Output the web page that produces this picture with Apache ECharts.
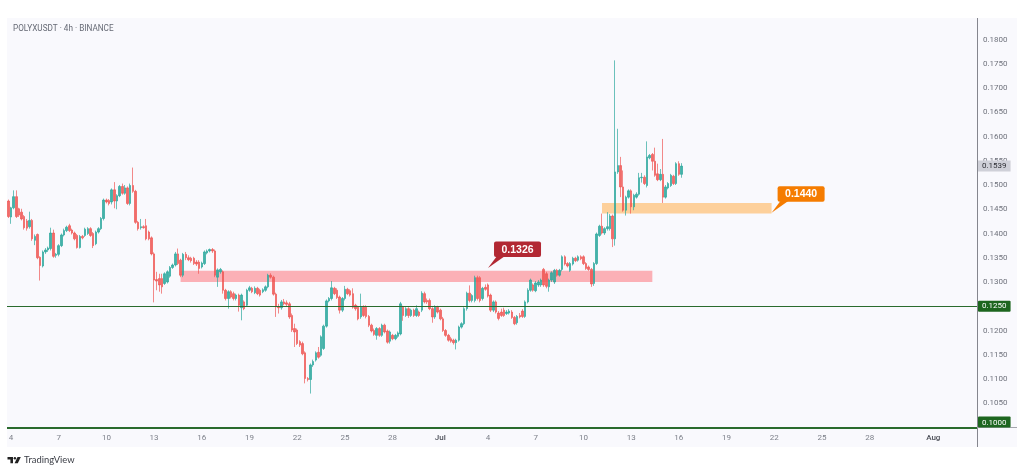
<!DOCTYPE html>
<html>
<head>
<meta charset="utf-8">
<title>POLYXUSDT</title>
<script src="https://cdn.jsdelivr.net/npm/echarts@6/dist/echarts.min.js"></script>
<style>
html,body{margin:0;padding:0;background:#fff;}
#main{width:1024px;height:472px;}
</style>
</head>
<body>
<div id="main"></div>
<script>
// 4h candles: open, close, low, high
var ohlc = [
[.1467,.1435,.1432,.1470],[.1434,.1453,.1420,.1455],[.1453,.1476,.1450,.1489],[.1476,.1435,.1432,.1489],[.1451,.1438,.1434,.1453],
[.1444,.1430,.1427,.1451],[.1435,.1412,.1408,.1438],[.1426,.1411,.1406,.1430],[.1414,.1427,.1410,.1445],[.1427,.1389,.1385,.1430],
[.1386,.1394,.1376,.1398],[.1398,.1350,.1347,.1400],[.1351,.1334,.1303,.1353],[.1333,.1362,.1330,.1365],[.1362,.1366,.1358,.1370],
[.1366,.1370,.1362,.1373],[.1369,.1401,.1365,.1412],[.1401,.1353,.1350,.1408],[.1355,.1357,.1350,.1360],[.1357,.1375,.1353,.1378],
[.1375,.1397,.1372,.1400],[.1397,.1406,.1394,.1410],[.1406,.1413,.1403,.1416],[.1416,.1406,.1403,.1420],[.1407,.1401,.1398,.1410],
[.1401,.1389,.1386,.1404],[.1396,.1371,.1369,.1399],[.1371,.1394,.1369,.1397],[.1394,.1391,.1388,.1397],[.1396,.1409,.1393,.1412],
[.1400,.1410,.1397,.1413],[.1410,.1396,.1393,.1413],[.1400,.1375,.1370,.1403],[.1379,.1403,.1376,.1406],[.1403,.1410,.1400,.1413],
[.1410,.1431,.1407,.1434],[.1431,.1469,.1427,.1472],[.1469,.1465,.1462,.1472],[.1468,.1462,.1458,.1471],[.1465,.1490,.1460,.1493],
[.1490,.1467,.1452,.1506],[.1467,.1478,.1450,.1481],[.1478,.1497,.1475,.1500],[.1497,.1483,.1480,.1503],[.1483,.1494,.1480,.1500],
[.1494,.1462,.1459,.1497],[.1462,.1499,.1458,.1503],[.1499,.1487,.1484,.1536],[.1487,.1423,.1420,.1490],[.1423,.1410,.1406,.1426],
[.1412,.1414,.1408,.1430],[.1414,.1412,.1410,.1417],[.1416,.1389,.1386,.1430],[.1403,.1389,.1386,.1406],[.1391,.1358,.1355,.1394],
[.1358,.1304,.1258,.1361],[.1305,.1302,.1283,.1321],[.1307,.1294,.1280,.1317],[.1307,.1290,.1276,.1317],[.1297,.1317,.1294,.1320],
[.1300,.1321,.1297,.1324],[.1312,.1330,.1309,.1333],[.1330,.1335,.1327,.1338],[.1335,.1358,.1332,.1362],[.1358,.1338,.1335,.1369],
[.1345,.1314,.1310,.1348],[.1314,.1357,.1310,.1360],[.1357,.1350,.1345,.1362],[.1350,.1346,.1343,.1355],[.1349,.1344,.1340,.1352],
[.1349,.1338,.1335,.1352],[.1341,.1337,.1333,.1345],[.1341,.1328,.1317,.1345],[.1331,.1339,.1328,.1342],[.1338,.1362,.1335,.1365],
[.1360,.1364,.1357,.1367],[.1364,.1367,.1361,.1369],[.1367,.1364,.1360,.1370],[.1364,.1314,.1310,.1367],[.1310,.1325,.1290,.1328],
[.1321,.1326,.1317,.1329],[.1321,.1283,.1276,.1324],[.1283,.1266,.1262,.1286],[.1266,.1280,.1245,.1283],[.1280,.1269,.1266,.1283],
[.1276,.1266,.1262,.1280],[.1266,.1273,.1262,.1276],[.1273,.1252,.1239,.1276],[.1247,.1273,.1221,.1276],[.1259,.1245,.1242,.1262],
[.1252,.1283,.1249,.1286],[.1283,.1288,.1280,.1292],[.1287,.1280,.1277,.1290],[.1278,.1287,.1275,.1291],[.1287,.1276,.1273,.1290],
[.1283,.1273,.1270,.1286],[.1280,.1284,.1277,.1287],[.1283,.1290,.1280,.1293],[.1290,.1314,.1287,.1317],[.1314,.1310,.1307,.1318],
[.1310,.1275,.1272,.1313],[.1275,.1249,.1228,.1278],[.1249,.1247,.1235,.1255],[.1247,.1259,.1243,.1263],[.1259,.1255,.1252,.1265],
[.1257,.1254,.1250,.1262],[.1255,.1228,.1224,.1259],[.1231,.1201,.1197,.1235],[.1204,.1197,.1166,.1214],[.1201,.1173,.1170,.1204],
[.1177,.1170,.1166,.1180],[.1173,.1152,.1149,.1177],[.1154,.1101,.1091,.1157],[.1101,.1099,.1095,.1104],[.1099,.1129,.1070,.1132],
[.1129,.1136,.1125,.1140],[.1139,.1154,.1136,.1157],[.1155,.1145,.1142,.1166],[.1149,.1187,.1146,.1190],[.1163,.1209,.1160,.1212],
[.1209,.1261,.1206,.1264],[.1261,.1266,.1258,.1269],[.1266,.1288,.1262,.1302],[.1287,.1276,.1273,.1290],[.1283,.1268,.1265,.1287],
[.1269,.1242,.1235,.1272],[.1242,.1266,.1238,.1269],[.1266,.1285,.1262,.1292],[.1285,.1276,.1273,.1288],[.1282,.1273,.1270,.1285],
[.1276,.1248,.1245,.1287],[.1252,.1245,.1241,.1255],[.1248,.1224,.1221,.1251],[.1228,.1248,.1224,.1276],[.1248,.1231,.1228,.1252],
[.1248,.1229,.1225,.1252],[.1229,.1211,.1207,.1232],[.1211,.1199,.1196,.1214],[.1200,.1192,.1189,.1204],[.1190,.1204,.1181,.1207],
[.1204,.1190,.1187,.1207],[.1190,.1211,.1187,.1214],[.1211,.1197,.1194,.1214],[.1199,.1176,.1173,.1202],[.1178,.1197,.1173,.1200],
[.1190,.1183,.1180,.1193],[.1183,.1190,.1180,.1193],[.1188,.1195,.1185,.1198],[.1193,.1255,.1190,.1259],[.1248,.1231,.1220,.1251],
[.1231,.1245,.1228,.1248],[.1245,.1231,.1226,.1248],[.1231,.1242,.1228,.1245],[.1242,.1231,.1228,.1245],[.1231,.1245,.1228,.1252],
[.1238,.1231,.1228,.1241],[.1242,.1277,.1238,.1281],[.1276,.1259,.1256,.1280],[.1262,.1259,.1255,.1266],[.1262,.1245,.1242,.1266],
[.1245,.1228,.1216,.1248],[.1228,.1248,.1224,.1252],[.1248,.1238,.1235,.1251],[.1242,.1224,.1221,.1245],[.1224,.1200,.1197,.1228],
[.1200,.1190,.1187,.1203],[.1190,.1180,.1177,.1193],[.1183,.1178,.1175,.1187],[.1180,.1175,.1171,.1183],[.1175,.1180,.1161,.1183],
[.1180,.1207,.1177,.1210],[.1207,.1214,.1204,.1217],[.1214,.1245,.1211,.1248],[.1245,.1277,.1241,.1280],[.1277,.1262,.1258,.1293],
[.1262,.1272,.1258,.1275],[.1262,.1309,.1258,.1313],[.1309,.1266,.1262,.1313],[.1309,.1262,.1258,.1312],[.1266,.1287,.1262,.1290],
[.1289,.1285,.1282,.1295],[.1294,.1271,.1268,.1297],[.1273,.1242,.1238,.1276],[.1242,.1259,.1238,.1262],[.1259,.1238,.1235,.1262],
[.1236,.1225,.1221,.1240],[.1238,.1231,.1228,.1245],[.1242,.1231,.1228,.1247],[.1235,.1238,.1232,.1242],[.1236,.1240,.1233,.1244],
[.1238,.1227,.1224,.1242],[.1227,.1214,.1211,.1230],[.1216,.1229,.1212,.1232],[.1231,.1228,.1225,.1236],[.1240,.1229,.1226,.1244],
[.1229,.1259,.1226,.1262],[.1259,.1283,.1256,.1287],[.1283,.1304,.1280,.1307],[.1294,.1283,.1280,.1297],[.1282,.1298,.1279,.1302],
[.1294,.1300,.1290,.1304],[.1294,.1304,.1290,.1307],[.1326,.1294,.1290,.1329],[.1317,.1291,.1287,.1321],[.1290,.1304,.1280,.1307],
[.1304,.1319,.1300,.1322],[.1300,.1324,.1296,.1327],[.1324,.1314,.1311,.1327],[.1314,.1324,.1311,.1327],[.1326,.1352,.1322,.1355],
[.1352,.1337,.1334,.1355],[.1338,.1333,.1330,.1341],[.1324,.1338,.1321,.1341],[.1337,.1349,.1334,.1352],[.1349,.1344,.1341,.1352],
[.1345,.1352,.1342,.1355],[.1352,.1348,.1345,.1355],[.1352,.1338,.1335,.1355],[.1338,.1328,.1325,.1341],[.1331,.1326,.1323,.1334],
[.1326,.1296,.1290,.1329],[.1297,.1338,.1292,.1341],[.1338,.1399,.1335,.1402],[.1396,.1415,.1393,.1418],[.1415,.1401,.1398,.1441],
[.1401,.1410,.1397,.1413],[.1410,.1414,.1406,.1444],[.1410,.1436,.1406,.1440],[.1436,.1389,.1372,.1439],[.1389,.1527,.1375,.1757],
[.1527,.1540,.1523,.1616],[.1540,.1496,.1475,.1558],[.1496,.1448,.1445,.1530],[.1448,.1475,.1437,.1478],[.1475,.1488,.1472,.1491],
[.1488,.1455,.1441,.1491],[.1455,.1479,.1448,.1482],[.1475,.1481,.1472,.1485],[.1481,.1515,.1478,.1525],[.1515,.1516,.1505,.1525],
[.1516,.1503,.1500,.1520],[.1499,.1558,.1495,.1590],[.1556,.1561,.1553,.1564],[.1563,.1549,.1530,.1566],[.1549,.1520,.1517,.1577],
[.1523,.1511,.1508,.1544],[.1511,.1522,.1508,.1533],[.1522,.1475,.1463,.1595],[.1475,.1496,.1472,.1500],[.1494,.1503,.1491,.1506],
[.1499,.1520,.1496,.1523],[.1518,.1503,.1500,.1521],[.1503,.1544,.1500,.1547],[.1544,.1522,.1519,.1549],[.1522,.1539,.1515,.1545]
];
// 0.1000 has no plain label, its green tag stands in for it
var priceTicks = [.105,.11,.115,.12,.125,.13,.135,.14,.145,.15,.155,.16,.165,.17,.175,.18];
var xTickSlots = [1,19,37,55,73,91,109,127,145,163,181,199,217,235,253,271,289,307,325,349];
var xTickLabels = ['4','7','10','13','16','19','22','25','28','Jul','4','7','10','13','16','19','22','25','28','Aug'];
var levels = [0.125, 0.1];
var lastPrice = 0.1539;
var zoneSlots = [[65,243],[224,288]];
var zonePrices = [[0.1323,0.1300],[0.1463,0.1441]];
var calloutSlots = [181,288];
var calloutPrices = [0.1329,0.1443];
var calloutLabels = ['0.1326','0.1440'];
var calloutColors = ['#b22833','#f57c00'];

// one slot per 4 hours, the axis runs on past the last candle
var categories = [];
for (var i = 0; i < 366; i++) {
    categories.push('t' + i);
}

var upColor = '#26a69a', downColor = '#ef5350', lineGreen = '#2a6b2d', tagGreen = '#1d661f';
var fontName = 'Roboto';

var tickAt = {};
xTickSlots.forEach(function (s, k) { tickAt[s] = xTickLabels[k]; });

function levelLine(v, width, vAlign) {
    return {
        yAxis: v,
        lineStyle: {color: lineGreen, width: width, type: 'solid'},
        label: {
            show: true, position: 'end', distance: 1, formatter: v.toFixed(4), verticalAlign: vAlign,
            backgroundColor: tagGreen, color: '#fff', fontFamily: fontName, fontSize: 8,
            padding: [2, 4, 1, 4], borderRadius: 1
        }
    };
}

var Mychart = echarts.init(document.getElementById('main'), null, {renderer: 'canvas'});
var option = {
    animation: false,
    backgroundColor: '#fff',
    title: {
        text: 'POLYXUSDT · 4h · BINANCE', left: 13, top: 25, padding: 0,
        textStyle: {fontFamily: fontName, fontSize: 8.2, fontWeight: 'normal', color: '#666a75'}
    },
    grid: {left: 7, right: 47, top: 19, bottom: 44.5},
    graphic: [
        {type: 'rect', z: -1, silent: true, shape: {x: 7, y: 18, width: 1010, height: 429}, style: {fill: '#f9f9fd'}},
        {type: 'line', z: 1, silent: true, shape: {x1: 977.5, y1: 18, x2: 977.5, y2: 447}, style: {stroke: '#85868e', lineWidth: 1}},
        {type: 'line', z: 1, silent: true, shape: {x1: 977, y1: 427.5, x2: 1017, y2: 427.5}, style: {stroke: '#a4a5ac', lineWidth: 1}},
        // TradingView mark
        {type: 'polygon', silent: true, shape: {points: [[7.5,457],[13,457],[13,463.2],[10.4,463.2],[10.4,459.4],[7.5,459.4]]}, style: {fill: '#222'}},
        {type: 'circle', silent: true, shape: {cx: 14.9, cy: 458.2, r: 1.2}, style: {fill: '#222'}},
        {type: 'polygon', silent: true, shape: {points: [[17.5,457],[20.8,457],[17.8,463.2],[14.6,463.2]]}, style: {fill: '#222'}},
        {type: 'text', silent: true, style: {x: 24, y: 455, text: 'TradingView', fontFamily: 'Lato', fontSize: 9.4, fill: '#3a3d45'}}
    ],
    xAxis: {
        type: 'category',
        data: categories,
        axisLine: {show: false},
        axisTick: {show: false},
        splitLine: {show: false},
        axisLabel: {
            interval: function (index) { return tickAt[index] !== undefined; },
            formatter: function (value, index) {
                var t = tickAt[index];
                return (t === 'Jul' || t === 'Aug') ? '{m|' + t + '}' : t;
            },
            rich: {m: {fontFamily: fontName, fontSize: 8, color: '#4c4f58', fontWeight: 500}},
            fontFamily: fontName, fontSize: 8, color: '#7d808a', margin: 6
        }
    },
    yAxis: {
        type: 'value',
        position: 'right',
        min: 0.1,
        max: 0.18423,
        scale: true,
        axisLine: {show: false},
        axisTick: {show: false},
        splitLine: {show: false},
        axisLabel: {
            customValues: priceTicks,
            formatter: function (v) { return v.toFixed(4); },
            fontFamily: fontName, fontSize: 8, color: '#6f727c', margin: 6
        }
    },
    series: [
        {
            type: 'candlestick',
            data: ohlc,
            barWidth: 2,
            itemStyle: {color: upColor, color0: downColor, borderColor: upColor, borderColor0: downColor, borderWidth: 0.8, opacity: 0.85},
            markArea: {
                silent: true,
                data: [
                    [{xAxis: categories[zoneSlots[0][0]], yAxis: zonePrices[0][0], itemStyle: {color: '#fbb0b6'}},
                     {xAxis: categories[zoneSlots[0][1]], yAxis: zonePrices[0][1]}],
                    [{xAxis: categories[zoneSlots[1][0]], yAxis: zonePrices[1][0], itemStyle: {color: '#fdd09b'}},
                     {xAxis: categories[zoneSlots[1][1]], yAxis: zonePrices[1][1]}]
                ]
            },
            markLine: {
                silent: true,
                symbol: 'none',
                precision: 4,
                data: [
                    levelLine(levels[0], 1.2, 'middle'),
                    levelLine(levels[1], 2, 'bottom'),
                    {
                        yAxis: lastPrice,
                        lineStyle: {width: 0, color: 'rgba(0,0,0,0)'},
                        label: {
                            show: true, position: 'end', distance: 1, formatter: lastPrice.toFixed(4),
                            backgroundColor: '#cfd0d8', color: '#2c2d33', fontFamily: fontName, fontSize: 8,
                            padding: [2, 4, 1, 4]
                        }
                    }
                ]
            }
        },
        {
            type: 'custom',
            silent: true,
            clip: false,
            z: 5,
            encode: {x: 0, y: 1},
            data: calloutSlots.map(function (s, k) { return [s, calloutPrices[k]]; }),
            renderItem: function (params, api) {
                var k = params.dataIndex;
                var p = api.coord([api.value(0), api.value(1)]);
                var boxX = p[0] + 6, boxY = p[1] - 26.5, boxW = 47, boxH = 15.5;
                return {
                    type: 'group',
                    children: [
                        {type: 'polygon', shape: {points: [[p[0], p[1]], [boxX + 3, boxY + boxH - 1], [boxX + 11, boxY + boxH - 1]]}, style: {fill: calloutColors[k]}},
                        {type: 'rect', shape: {x: boxX, y: boxY, width: boxW, height: boxH, r: 2}, style: {fill: calloutColors[k]}},
                        {type: 'text', style: {
                            x: boxX + boxW / 2, y: boxY + boxH / 2 + 0.5, text: calloutLabels[k], align: 'center', verticalAlign: 'middle',
                            fontFamily: 'Liberation Sans', fontWeight: 'bold', fontSize: 10.5, fill: '#fff'
                        }}
                    ]
                };
            }
        }
    ]
};
Mychart.setOption(option);
</script>
</body>
</html>
